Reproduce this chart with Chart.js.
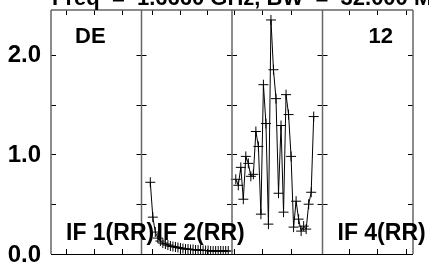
<!DOCTYPE html>
<html>
<head>
<meta charset="utf-8">
<script src="https://cdn.jsdelivr.net/npm/chart.js@4.4.1/dist/chart.umd.min.js"></script>
<style>
  html, body { margin: 0; padding: 0; background: #fff; }
  #wrap { width: 429px; height: 266px; position: relative; }
</style>
</head>
<body>
<div id="wrap"><canvas id="possm"></canvas></div>
<script>
// header + panel labels
const titleText = 'Freq  =  1.6660 GHz, BW  =  32.000 MHz';
const sourceLabel = 'DE';
const baselineLabel = '12';
const ifNames = ['IF 1(RR)', 'IF 2(RR)', '', 'IF 4(RR)'];

// channels per IF panel
const nChan = 36;

// amplitude ticks / labels
const yTickValues = [0, 0.5, 1.0, 1.5, 2.0];
const yTickLabels = ['0.0', '', '1.0', '', '2.0'];

// frequency ticks, in channel units, per IF
const xTickChannels = [
  [6.4, 17.5, 28.7],
  [4.8, 15.9, 26.7],
  [1.2, 12.4, 23.9],
  [11.2, 22.3, 33.9]
];

// IF 2 (RR)
const if2Channels = [4, 5, 6, 7, 8, 9, 10, 11, 12, 13, 14, 15, 16, 17, 18, 19,
  20, 21, 22, 23, 24, 25, 26, 27, 28, 29, 30, 31, 32, 33, 34, 35];
const if2Amp = [0.72, 0.37, 0.22, 0.16, 0.13, 0.11, 0.10, 0.09, 0.08, 0.075,
  0.07, 0.065, 0.06, 0.055, 0.05, 0.05, 0.045, 0.045, 0.04, 0.04, 0.04, 0.035,
  0.035, 0.035, 0.03, 0.03, 0.03, 0.03, 0.03, 0.03, 0.03, 0.03];

// IF 3 (RR)
const if3Channels = [2, 3, 4, 5, 6, 7, 8, 9, 10, 11, 12, 13, 14, 15, 16, 17,
  18, 19, 20, 21, 22, 23, 24, 25, 26, 27, 28, 29, 30, 31, 32, 33];
const if3Amp = [0.75, 0.69, 0.87, 0.55, 0.98, 0.91, 0.78, 0.80, 1.23, 1.08,
  0.40, 1.70, 1.31, 0.30, 2.35, 1.85, 1.56, 0.61, 1.29, 0.42, 1.60, 1.40,
  0.98, 0.27, 0.53, 0.35, 0.23, 0.28, 0.25, 0.50, 0.62, 1.38];

const yMax = 2.45;
const FAMILY = '"Liberation Sans", Arial, sans-serif';

function toPoints(ifIndex, chans, amps) {
  return chans.map((c, i) => ({ x: ifIndex * nChan + c, y: amps[i] }));
}

function lineSet(data) {
  return {
    data,
    showLine: true,
    borderColor: '#000',
    borderWidth: 1,
    pointStyle: 'cross',
    pointRadius: 5,
    pointBorderColor: '#000',
    pointBorderWidth: 1,
    tension: 0
  };
}

const frame = {
  id: 'frame',
  afterDatasetsDraw(chart) {
    const ctx = chart.ctx;
    const a = chart.chartArea;
    const xs = chart.scales.x;
    const ys = chart.scales.y;
    const tick = 5;
    const edges = [];
    for (let i = 0; i <= 4; i++) edges.push(xs.getPixelForValue(i * nChan + 0.5));

    ctx.save();
    // y ticks at every panel edge
    ctx.strokeStyle = '#000';
    ctx.lineWidth = 1;
    yTickValues.forEach(v => {
      const y = Math.round(ys.getPixelForValue(v)) + 0.5;
      edges.forEach((x, i) => {
        ctx.beginPath();
        ctx.moveTo(i === 0 ? x : x - tick, y);
        ctx.lineTo(i === 4 ? x : x + tick, y);
        ctx.stroke();
      });
    });
    // x ticks top and bottom
    xTickChannels.forEach((list, i) => {
      list.forEach(c => {
        const x = Math.round(xs.getPixelForValue(i * nChan + c)) + 0.5;
        ctx.beginPath();
        ctx.moveTo(x, a.top); ctx.lineTo(x, a.top + tick);
        ctx.moveTo(x, a.bottom); ctx.lineTo(x, a.bottom - tick);
        ctx.stroke();
      });
    });
    // panel borders
    ctx.strokeStyle = '#666';
    ctx.lineWidth = 1.5;
    edges.forEach(x => {
      ctx.beginPath();
      ctx.moveTo(x, a.top); ctx.lineTo(x, a.bottom);
      ctx.stroke();
    });
    ctx.beginPath();
    ctx.moveTo(a.left, a.top); ctx.lineTo(a.right, a.top);
    ctx.stroke();
    ctx.strokeStyle = '#000';
    ctx.lineWidth = 1;
    ctx.beginPath();
    ctx.moveTo(a.left, a.bottom + 0.5); ctx.lineTo(a.right, a.bottom + 0.5);
    ctx.stroke();

    // text
    ctx.fillStyle = '#000';
    ctx.font = 'bold 24px ' + FAMILY;
    ctx.textBaseline = 'middle';
    ctx.textAlign = 'right';
    yTickValues.forEach((v, i) => {
      if (yTickLabels[i]) ctx.fillText(yTickLabels[i], a.left - 10, ys.getPixelForValue(v) + 1);
    });
    ctx.font = 'bold 22px ' + FAMILY;
    ctx.textBaseline = 'alphabetic';
    ctx.textAlign = 'left';
    ctx.fillText(titleText, a.left + 1, 5);
    ctx.fillText(sourceLabel, edges[0] + 24, 43);
    ctx.textAlign = 'right';
    ctx.fillText(baselineLabel, edges[4] - 20, 43);
    ctx.textAlign = 'left';
    ctx.font = 'bold 23px ' + FAMILY;
    ifNames.forEach((name, i) => {
      if (name) ctx.fillText(name, edges[i] + 15, 240);
    });
    ctx.restore();
  }
};

new Chart(document.getElementById('possm'), {
  type: 'scatter',
  data: {
    datasets: [
      lineSet(toPoints(1, if2Channels, if2Amp)),
      lineSet(toPoints(2, if3Channels, if3Amp))
    ]
  },
  options: {
    responsive: true,
    maintainAspectRatio: false,
    animation: false,
    layout: { padding: { left: 51, top: 10, right: 16, bottom: 12 } },
    plugins: { legend: { display: false }, tooltip: { enabled: false } },
    scales: {
      x: { type: 'linear', min: 0.5, max: 4 * nChan + 0.5, display: false },
      y: { type: 'linear', min: 0, max: yMax, display: false }
    }
  },
  plugins: [frame]
});
</script>
</body>
</html>
